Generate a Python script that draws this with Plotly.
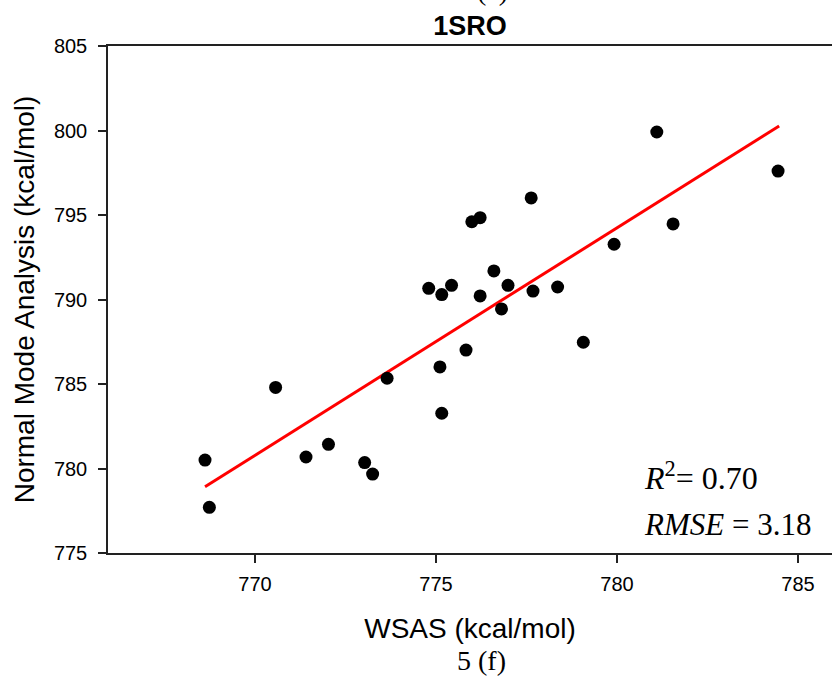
import plotly.graph_objects as go

# Data
wsas = [768.62, 768.74, 770.57, 771.41, 772.03, 773.03, 773.25, 773.65,
        774.80, 775.16, 775.43, 775.11, 775.16, 775.83, 775.99, 776.22,
        776.22, 776.60, 776.81, 776.99, 777.63, 777.68, 778.36, 779.07,
        779.92, 781.10, 781.55, 784.45]
nma = [780.50, 777.70, 784.80, 780.68, 781.43, 780.35, 779.67, 785.34,
       790.66, 790.29, 790.84, 786.01, 783.27, 787.01, 794.60, 794.84,
       790.21, 791.69, 789.44, 790.84, 796.01, 790.50, 790.74, 787.47,
       793.27, 799.91, 794.47, 797.60]
fit_x = [768.62, 784.48]
fit_y = [778.92, 800.27]
x_ticks = [770, 775, 780, 785]
y_ticks = [775, 780, 785, 790, 795, 800, 805]

W, H = 832, 683
L, R, T, B = 108, 0, 46, 130

fig = go.Figure()
fig.add_trace(go.Scatter(x=fit_x, y=fit_y, mode="lines",
                         line=dict(color="#ff0000", width=3), showlegend=False))
fig.add_trace(go.Scatter(x=wsas, y=nma, mode="markers",
                         marker=dict(color="black", size=13), showlegend=False))

sans = "Liberation Sans, Arial, sans-serif"
serif = "Liberation Serif, Times New Roman, serif"

fig.update_layout(
    width=W, height=H,
    margin=dict(l=L, r=R, t=T, b=B, pad=0),
    paper_bgcolor="white", plot_bgcolor="white",
    showlegend=False,
    title=dict(text="<b>1SRO</b>", x=(470 / W), xanchor="center",
               y=1 - 26 / H, yanchor="middle",
               font=dict(family=sans, size=27, color="black")),
    xaxis=dict(range=[765.94, 785.94], tickvals=x_ticks,
               ticks="outside", ticklen=8, tickwidth=1.5, tickcolor="#222",
               showline=True, linewidth=1.5, linecolor="#222", mirror=True,
               showgrid=False, zeroline=False,
               ticklabelstandoff=4,
               tickfont=dict(family=sans, size=20, color="black"),
               title=dict(text="WSAS (kcal/mol)", standoff=25,
                          font=dict(family=sans, size=28, color="black"))),
    yaxis=dict(range=[775, 805], tickvals=y_ticks,
               ticks="outside", ticklen=8, tickwidth=1.5, tickcolor="#222",
               showline=True, linewidth=1.5, linecolor="#222", mirror=False,
               showgrid=False, zeroline=False,
               ticklabelstandoff=7,
               tickfont=dict(family=sans, size=20, color="black"),
               title=dict(text="Normal Mode Analysis (kcal/mol)", standoff=11,
                          font=dict(family=sans, size=28, color="black"))),
)

pw = W - L - R
ph = H - T - B

def px(xp):
    return (xp - L) / pw

def py(yp):
    return (H - B - yp) / ph

fig.add_annotation(xref="paper", yref="paper", x=px(642), y=py(476),
                   xanchor="left", yanchor="middle", showarrow=False,
                   text="<i>R</i><sup>2</sup>= 0.70",
                   font=dict(family=serif, size=32, color="black"))
fig.add_annotation(xref="paper", yref="paper", x=px(642), y=py(524),
                   xanchor="left", yanchor="middle", showarrow=False,
                   text="<i>RMSE</i> = 3.18",
                   font=dict(family=serif, size=31, color="black"))
fig.add_annotation(xref="paper", yref="paper", x=px(482), y=py(660),
                   xanchor="center", yanchor="middle", showarrow=False,
                   text="5 (f)",
                   font=dict(family=serif, size=28, color="black"))
fig.add_annotation(xref="paper", yref="paper", x=px(482), y=py(-10),
                   xanchor="center", yanchor="middle", showarrow=False,
                   text="5 (e)",
                   font=dict(family=serif, size=28, color="black"))

fig.write_html("out.html")
